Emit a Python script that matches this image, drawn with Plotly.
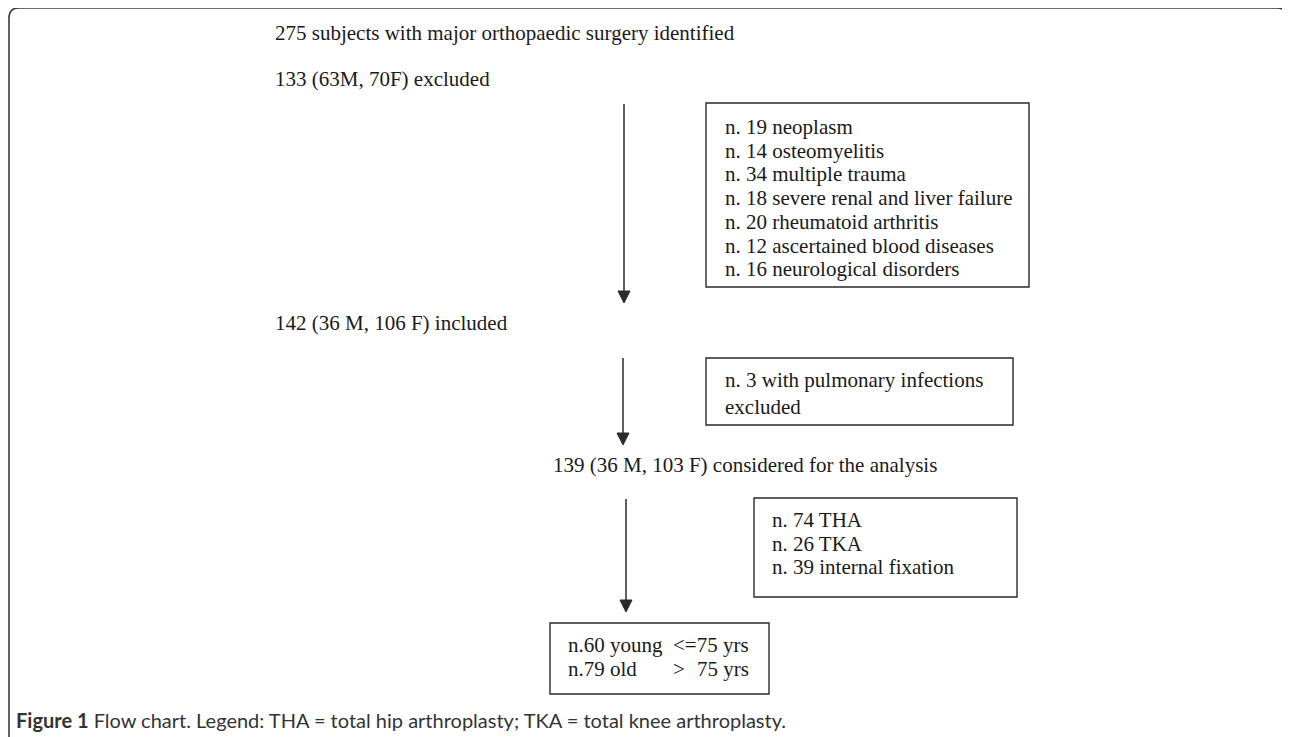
import plotly.graph_objects as go

# ---------------- data ----------------
flow_steps = [
    "275 subjects with major orthopaedic surgery identified",
    "133 (63M, 70F) excluded",
    "142 (36 M, 106 F) included",
    "139 (36 M, 103 F) considered for the analysis",
]
exclusion_counts = [19, 14, 34, 18, 20, 12, 16]
exclusion_reasons = [
    "neoplasm",
    "osteomyelitis",
    "multiple trauma",
    "severe renal and liver failure",
    "rheumatoid arthritis",
    "ascertained blood diseases",
    "neurological disorders",
]
second_exclusion_lines = ["n. 3 with pulmonary infections", "excluded"]
procedure_counts = [74, 26, 39]
procedure_labels = ["THA", "TKA", "internal fixation"]
age_counts = [60, 79]
age_labels = ["young", "old"]
age_operators = ["&lt;=", "&gt;"]
age_threshold = "75 yrs"
caption_bold = "Figure 1"
caption_text = " Flow chart. Legend: THA = total hip arthroplasty; TKA = total knee arthroplasty."

# ---------------- layout (positions / styles) ----------------
W, H = 1290, 737
PAGE_MARGIN = 8  # default body margin of the html page
SERIF = "Liberation Serif, Times New Roman, serif"
FS = 21
TXT = "#1a1a1a"
LINE = "#2a2a2a"

step_pos = [(273, 33), (273, 79), (273, 323), (551, 465)]
boxes = {
    "excl": (706, 103, 1029, 287),
    "excl2": (706, 358, 1013, 425),
    "proc": (754, 498, 1017, 597),
    "age": (550, 623, 769, 694),
}
arrows = [(624, 104, 303), (623, 358, 445), (626, 499, 612)]

fig = go.Figure()
shapes = []
annotations = []


def text(x, y, s, size=FS, font=SERIF, color=TXT):
    annotations.append(dict(
        x=x, y=y, xref="x", yref="y", text=s, showarrow=False,
        xanchor="left", yanchor="middle",
        font=dict(family=font, size=size, color=color),
    ))


# outer rounded frame
x0, y0, x1, y1, r = 9, 8, 1287, 748, 10
frame = (f"M {x0+r},{y0} L {x1-r},{y0} Q {x1},{y0} {x1},{y0+r} "
         f"L {x1},{y1-r} Q {x1},{y1} {x1-r},{y1} L {x0+r},{y1} "
         f"Q {x0},{y1} {x0},{y1-r} L {x0},{y0+r} Q {x0},{y0} {x0+r},{y0} Z")
shapes.append(dict(type="path", path=frame, xref="x", yref="y",
                   line=dict(color="#3a3a3a", width=1.6)))

# boxes
for key, (bx0, by0, bx1, by1) in boxes.items():
    shapes.append(dict(type="rect", x0=bx0, y0=by0, x1=bx1, y1=by1,
                       xref="x", yref="y",
                       line=dict(color=LINE, width=1.4)))

# arrows (line + filled triangular head)
head_len, head_half = 12, 6
for ax, ys, ye in arrows:
    shapes.append(dict(type="line", x0=ax, y0=ys, x1=ax, y1=ye - head_len + 1,
                       xref="x", yref="y", line=dict(color=LINE, width=1.5)))
    shapes.append(dict(type="path",
                       path=f"M {ax-head_half},{ye-head_len} L {ax+head_half},{ye-head_len} L {ax},{ye} Z",
                       xref="x", yref="y", fillcolor=LINE,
                       line=dict(color=LINE, width=1)))

# main flow texts
for s, (tx, ty) in zip(flow_steps, step_pos):
    text(tx, ty, s)

# exclusion box text
for i, (c, rsn) in enumerate(zip(exclusion_counts, exclusion_reasons)):
    text(723, 127 + i * 23.7, f"n. {c} {rsn}")

# second exclusion box
for i, s in enumerate(second_exclusion_lines):
    text(723, 380 + i * 27, s)

# procedures box
for i, (c, lab) in enumerate(zip(procedure_counts, procedure_labels)):
    text(770, 520 + i * 23.5, f"n. {c} {lab}")

# age box
for i, (c, lab, op) in enumerate(zip(age_counts, age_labels, age_operators)):
    yy = 645 + i * 24
    text(566, yy, f"n.{c} {lab}")
    if i == 0:
        text(671, yy, f"{op}{age_threshold}")
    else:
        text(671, yy, op)
        text(695, yy, age_threshold)

# caption
annotations.append(dict(
    x=14, y=720, xref="x", yref="y", showarrow=False,
    xanchor="left", yanchor="middle",
    text=f"<b>{caption_bold}</b>{caption_text}",
    font=dict(family="Lato, Open Sans, sans-serif", size=20, color="#333333"),
))

fig.update_layout(
    width=W - PAGE_MARGIN, height=H - PAGE_MARGIN,
    margin=dict(l=0, r=0, t=0, b=0),
    paper_bgcolor="white", plot_bgcolor="white",
    xaxis=dict(range=[PAGE_MARGIN, W], visible=False, fixedrange=True),
    yaxis=dict(range=[H, PAGE_MARGIN], visible=False, fixedrange=True),
    shapes=shapes, annotations=annotations, showlegend=False,
)

fig.write_html("out.html")
